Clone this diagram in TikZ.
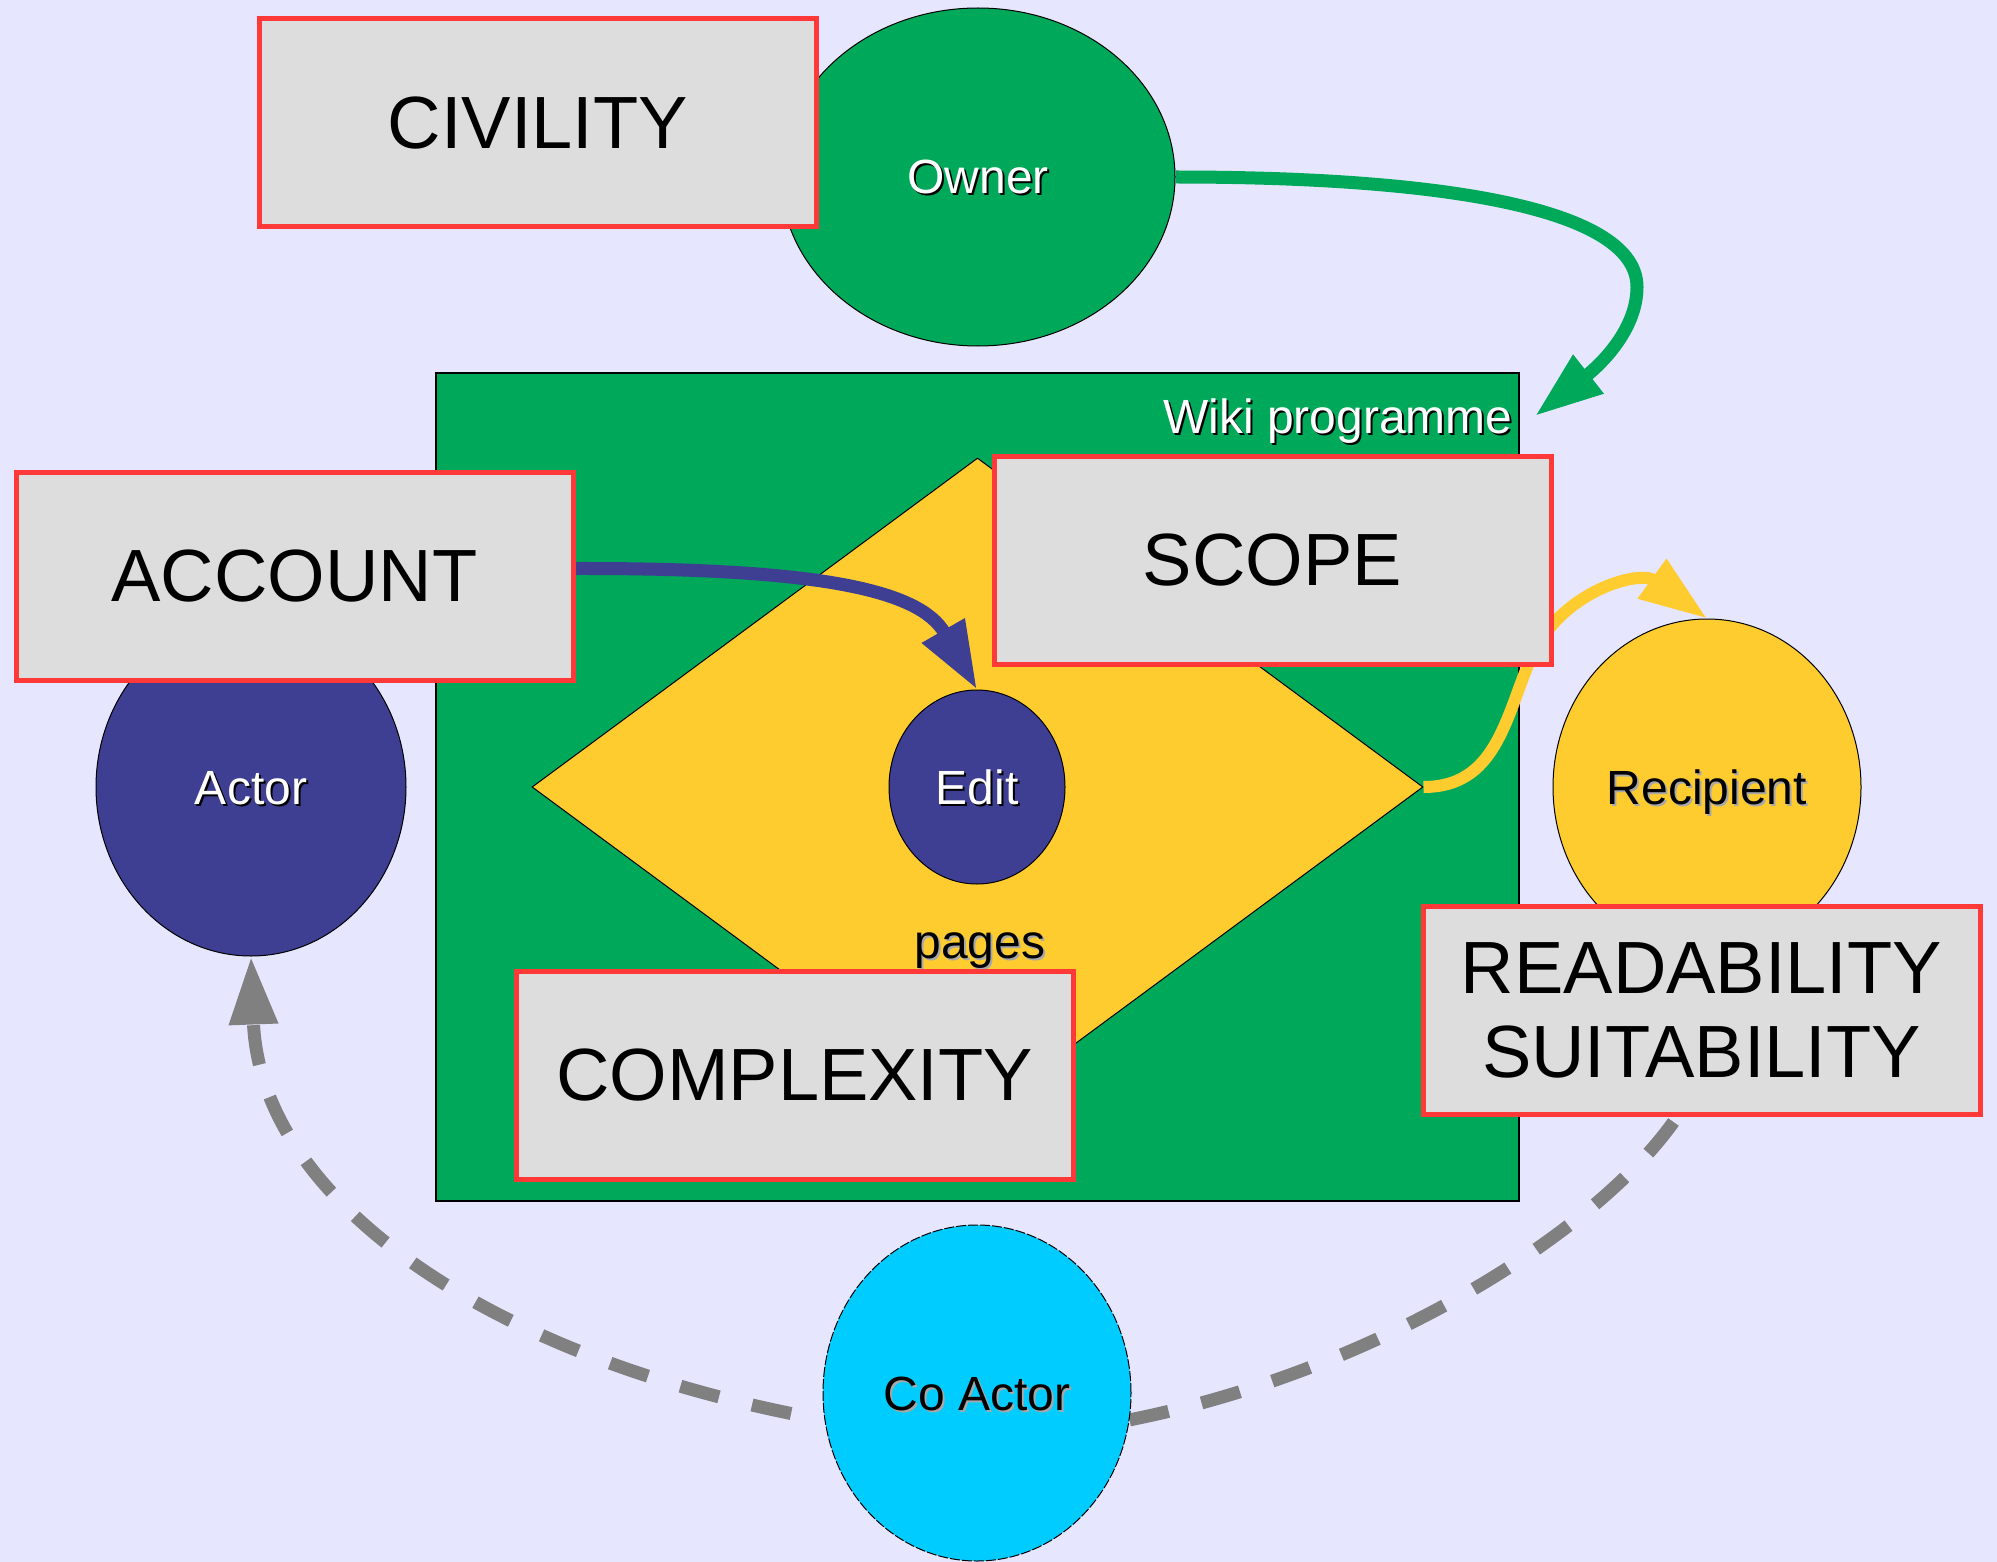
\documentclass[tikz,border=0pt]{standalone}
\usepackage{fontspec}
\setmainfont{Liberation Sans}
\usetikzlibrary{arrows.meta,positioning,shapes.geometric,calc}
\definecolor{bgviolet}{HTML}{E6E6FF}
\definecolor{wikigreen}{HTML}{00A859}
\definecolor{pageyellow}{HTML}{FFCC2F}
\definecolor{actorblue}{HTML}{3E3E92}
\definecolor{coblue}{HTML}{00CCFF}
\definecolor{boxred}{HTML}{FF3838}
\definecolor{boxgray}{HTML}{DDDDDD}
\definecolor{linkgray}{HTML}{808080}
\definecolor{shadowgray}{HTML}{A8A8A8}
\pgfdeclarelayer{back}
\pgfdeclarelayer{links}
\pgfsetlayers{back,links,main}
\newcommand{\lighttext}[1]{\makebox[0pt][l]{\hspace{1pt}\raisebox{-1pt}{\textcolor{black}{#1}}}\textcolor{white}{#1}}
\newcommand{\darktext}[1]{\makebox[0pt][l]{\hspace{1pt}\raisebox{-1pt}{\textcolor{shadowgray}{#1}}}#1}
\tikzset{
    line/.style     = {-{Triangle[length=34pt,width=23pt]}, line width=6.5pt},
    dashline/.style = {line, draw=linkgray, dash pattern=on 20pt off 17pt},
    bigbox/.style   = {draw=boxred, line width=2.5pt, fill=boxgray,
            minimum width=278.5pt, minimum height=104pt, inner sep=0pt,
            align=center, font=\fontsize{37}{42}\selectfont},
    bubble/.style   = {ellipse, draw=black, line width=0.5pt, inner sep=0pt,
            text height=17pt, text depth=0pt, font=\fontsize{24}{28}\selectfont},
    wikibox/.style  = {draw=black, line width=0.6pt, fill=wikigreen,
            minimum width=541.5pt, minimum height=414pt},
    pagesarea/.style = {diamond, draw=black, line width=0.5pt, fill=pageyellow,
            inner sep=0pt, minimum width=445.5pt, minimum height=329pt},
}
\begin{document}
\begin{tikzpicture}[x=0.5pt, y=-0.5pt]
    \useasboundingbox (0,0) rectangle (1997,1562);
    \begin{pgfonlayer}{back}
        \fill[bgviolet] (0,0) rectangle (1997,1562);
        % programme and pages
        \node[wikibox] (wiki) at (977.5,787) {};
        \node[anchor=base east, inner sep=0pt, font=\fontsize{24}{28}\selectfont] (wikilabel) at (1513,433) {\lighttext{Wiki programme}};
        \node[pagesarea] (pages) at (977.5,787) {};
    \end{pgfonlayer}

    % Nodes
    \node[bubble, fill=wikigreen, minimum width=197pt, minimum height=169pt] (owner) at (978,177) {\lighttext{Owner}};
    \node[bubble, fill=actorblue, minimum width=155pt, minimum height=169pt] (actor) at (251,787) {\lighttext{Actor}};
    \node[bubble, fill=actorblue, minimum width=88pt, minimum height=97pt] (edit) at (977,787) {\lighttext{Edit}};
    \node[anchor=base, inner sep=0pt, font=\fontsize{24}{28}\selectfont] (pageslabel) at (980,958) {\darktext{pages}};
    \node[bubble, fill=pageyellow, minimum width=154pt, minimum height=168pt] (recipient) at (1707,787) {\darktext{Recipient}};
    \node[bubble, fill=coblue, dash pattern=on 5pt off 1pt, minimum width=154pt, minimum height=168pt] (coactor) at (977,1393) {\darktext{Co Actor}};

    \node[bigbox] (civility) at (538,123) {CIVILITY};
    \node[bigbox] (account) at (294.5,576.5) {ACCOUNT};
    \node[bigbox] (scope) at (1272.5,560.5) {SCOPE};
    \node[bigbox] (complexity) at (794.5,1075) {COMPLEXITY};
    \node[bigbox] (readability) at (1701.5,1010.5) {READABILITY\\SUITABILITY};
    \coordinate (wikitip) at (1535,416);

    % Arrows
    \begin{pgfonlayer}{links}
        \draw[line, draw=wikigreen] (owner.east) .. controls (1450,177) and (1637,210) .. (1637,287)
            .. controls (1637,330) and (1600,365) .. (wikitip);
        \draw[line, draw=actorblue] ($(account.east)+(0,-8)$) .. controls (820,568) and (920,590) .. (edit.north);
        \draw[line, line width=6pt, draw=pageyellow] (pages.east) .. controls (1495,787) and (1505,720) .. (1530,660)
            .. controls (1560,590) and (1640,570) .. (recipient.north);
        \draw[dashline, dash phase=20pt] (coactor.190) .. controls (490,1360) and (260,1200) .. (actor.south);
        \draw[dashline, -] (coactor.-10) .. controls (1380,1370) and (1600,1230) .. (readability.-103);
    \end{pgfonlayer}
\end{tikzpicture}
\end{document}
